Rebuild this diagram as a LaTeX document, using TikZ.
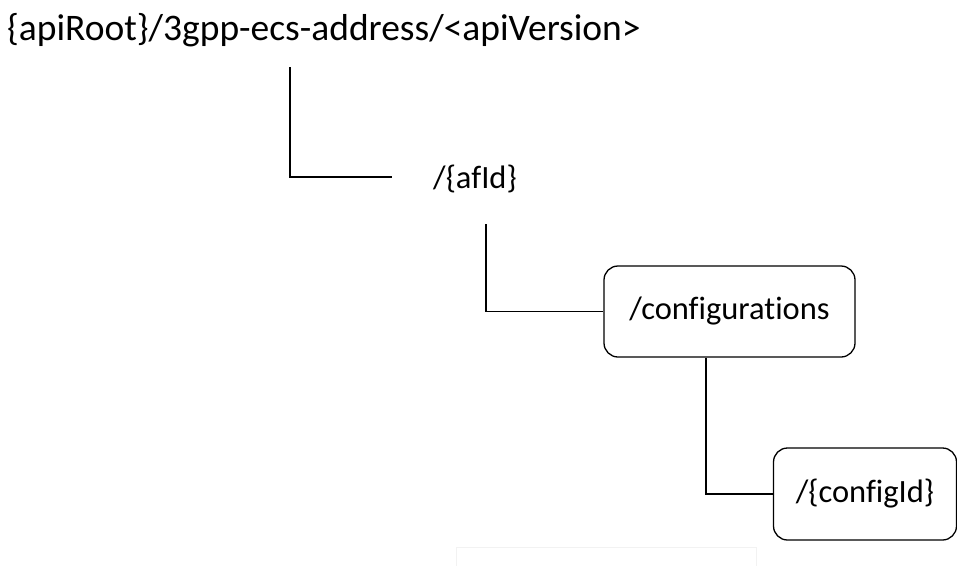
\documentclass[tikz,border=0pt]{standalone}
\usepackage{fontspec}
\setmainfont{Carlito}[Ligatures=CommonOff]
\usepackage{tikz}
\usetikzlibrary{positioning,calc}

\begin{document}
\begin{tikzpicture}[
  x=1pt, y=-1pt,
  res/.style={draw, rounded corners=14pt, line width=1.3pt, align=center, font=\fontsize{32.5}{38}\selectfont},
  plain/.style={inner sep=0pt, font=\fontsize{32.5}{38}\selectfont},
  link/.style={line width=1.3pt},
]
\useasboundingbox (0,0) rectangle (957,565);

% API root
\node[inner sep=0pt, anchor=base west, font=\fontsize{37.5}{44}\selectfont] (root) at (7,40) {\{apiRoot\}/3gpp-ecs-address/<apiVersion>};

% resources
\node[plain, anchor=base west] (afid) at (433,188) {/\{afId\}};
\node[res, minimum width=251pt, minimum height=91pt] (cfgs) at (729.5,311.5) {/configurations};
\node[res, minimum width=183pt, minimum height=92pt] (cfgid) at (865,494) {/\{configId\}};

% empty frame at the bottom
\node[draw=black!5, line width=1pt, minimum width=300pt, minimum height=40pt, anchor=north west] (blank) at (456,547) {};

% tree lines
\coordinate (r1) at (290,67);
\coordinate (r2) at (392,177);
\coordinate (a1) at (486,224);
\draw[link] (r1) |- (r2);
\draw[link] (a1) |- (cfgs.west);
\draw[link] ([xshift=-23.5pt]cfgs.south) |- (cfgid.west);

\end{tikzpicture}
\end{document}
